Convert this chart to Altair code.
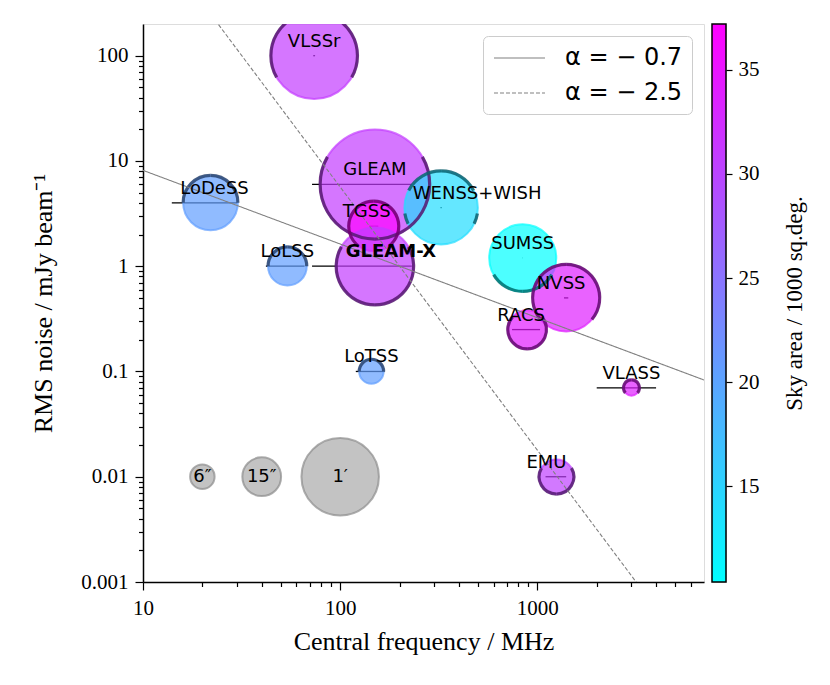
import math
import altair as alt
import pandas as pd

# ---------------- data ----------------
names = ["VLSSr", "GLEAM", "TGSS", "GLEAM-X", "WENSS+WISH", "SUMSS", "NVSS",
         "RACS", "VLASS", "EMU", "LoTSS", "LoLSS", "LoDeSS"]
freq_mhz = [73.8, 150, 148, 150, 325, 843, 1400, 887.5, 3000, 1250, 144, 54, 22]
rms_mjy = [100, 6.0, 2.4, 1.0, 3.6, 1.2, 0.5, 0.25, 0.07, 0.01, 0.1, 1.0, 4.0]
res_arcsec = [75, 120, 25, 60, 54, 45, 45, 15, 2.5, 12, 6, 15, 30]
area_kdeg = [30.9, 30.9, 36.9, 30.9, 14.0, 10.4, 33.8, 34.2, 33.9, 30.5, 20.6, 20.6, 20.6]
band_lo = [73.0, 72, 140, 72, 322.5, 841.5, 1365, 744, 2000, 1100, 120, 42, 14]
band_hi = [74.6, 231, 156, 231, 327.5, 844.5, 1435, 1032, 4000, 1400, 168, 66, 30]

# declination coverage drawn as dark arcs on the bubble edge
arc_survey = ["VLSSr", "GLEAM", "TGSS", "GLEAM-X", "WENSS+WISH", "WENSS+WISH", "SUMSS",
              "NVSS", "RACS", "VLASS", "EMU", "LoTSS", "LoLSS", "LoDeSS"]
arc_dec_lo = [-30, -90, -53, -90, 28, -26, -90, -40, -90, -40, -90, 0, 0, 0]
arc_dec_hi = [90, 30, 90, 30, 90, -9, -30, 90, 41, 90, 30, 90, 90, 90]

ref_labels = ["6″", "15″", "1′"]
ref_freq = [20, 40, 100]
ref_rms = [0.01, 0.01, 0.01]
ref_res = [6, 15, 60]

alpha_labels = ["α = − 0.7", "α = − 2.5"]
alpha_index = [-0.7, -2.5]
pivot_freq = 200.0
pivot_rms = 1.0

x_domain = [10, 7000]
y_domain = [0.001, 200]
area_domain = [10.4, 37.2]
res_max = 120

# ---------------- tables ----------------
surveys = pd.DataFrame({"name": names, "freq": freq_mhz, "rms": rms_mjy,
                        "res": res_arcsec, "area": area_kdeg,
                        "lo": band_lo, "hi": band_hi})
arcs = pd.DataFrame({"name": arc_survey, "dlo": arc_dec_lo, "dhi": arc_dec_hi}).merge(
    surveys, on="name", how="left")
refs = pd.DataFrame({"label": ref_labels, "freq": ref_freq, "rms": ref_rms, "res": ref_res})
lines = pd.DataFrame([{"label": l, "alpha": a, "freq": f}
                      for l, a in zip(alpha_labels, alpha_index) for f in x_domain])

# ---------------- scales / axes ----------------
major = "abs(log(datum.value)/LN10 - round(log(datum.value)/LN10)) < 1e-6"
x_ticks = [m * 10 ** e for e in (1, 2, 3) for m in range(1, 10) if m * 10 ** e < x_domain[1]]
y_ticks = [m * 10.0 ** e for e in range(-3, 3) for m in range(1, 10) if m * 10.0 ** e < y_domain[1] * 0.999]

SERIF = "Liberation Serif"
common_axis = dict(labelExpr=f"{major} ? format(datum.value, '~g') : ''",
                   tickSize={"condition": {"test": major, "value": 8}, "value": 4.5},
                   labelOverlap=False, labelFlush=False, grid=False,
                   labelFont=SERIF, labelFontSize=21, titleFont=SERIF, titleFontSize=26,
                   titleFontWeight="normal", labelPadding=7,
                   tickColor="black", tickWidth=1.2, domainColor="black", domainWidth=1.5,
                   labelColor="black", titleColor="black")
x_axis = alt.Axis(values=x_ticks, titlePadding=10, **common_axis)
y_axis = alt.Axis(values=y_ticks, titlePadding=24, **common_axis)
xs = alt.Scale(type="log", domain=x_domain, nice=False)
ys = alt.Scale(type="log", domain=y_domain, nice=False)
XT = "Central frequency / MHz"
YT = "RMS noise / mJy beam⁻¹"

# bubble diameter = 10 px * sqrt(resolution in arcsec); Vega symbol size = bbox area
size_scale = alt.Scale(type="linear", domain=[0, res_max], range=[0, 100 * res_max], zero=True)
radius_scale = alt.Scale(type="sqrt", domain=[0, res_max], range=[0, 5 * math.sqrt(res_max)], zero=True)
col_scale = alt.Scale(domain=area_domain, range=["#00ffff", "#ff00ff"], interpolate="rgb")
dark_scale = alt.Scale(domain=area_domain, range=["#007070", "#700070"], interpolate="rgb")


def X(field):
    return alt.X(f"{field}:Q", scale=xs, axis=x_axis, title=XT)


def Y(field):
    return alt.Y(f"{field}:Q", scale=ys, axis=y_axis, title=YT)


band = alt.Chart(surveys).mark_rule(color="black", strokeWidth=1.3, clip=True).encode(
    x=X("lo"), x2="hi:Q", y=Y("rms"))

ref_bub = alt.Chart(refs).mark_circle(fill="#a9a9a9", fillOpacity=0.7, stroke="#8c8c8c",
                                      strokeOpacity=0.7, strokeWidth=2, clip=True).encode(
    x=X("freq"), y=Y("rms"), size=alt.Size("res:Q", scale=size_scale, legend=None))

bubbles = alt.Chart(surveys).mark_circle(fillOpacity=0.7, strokeOpacity=0.7, strokeWidth=2,
                                         clip=True).encode(
    x=X("freq"), y=Y("rms"),
    size=alt.Size("res:Q", scale=size_scale, legend=None),
    fill=alt.Fill("area:Q", scale=col_scale, legend=None),
    stroke=alt.Stroke("area:Q", scale=col_scale, legend=None))

deg = "PI/180"
arc_base = alt.Chart(arcs).transform_calculate(
    tr1=f"(90 - datum.dhi)*{deg}", tr2=f"(90 - datum.dlo)*{deg}",
    tl1=f"(270 + datum.dlo)*{deg}", tl2=f"(270 + datum.dhi)*{deg}")


def arc_layer(t1, t2):
    return arc_base.mark_arc(filled=False, strokeWidth=3.2, strokeOpacity=0.85, clip=True).encode(
        x=X("freq"), y=Y("rms"),
        theta=alt.Theta(f"{t1}:Q", scale=None, stack=False),
        theta2=f"{t2}:Q",
        radius=alt.Radius("res:Q", scale=radius_scale),
        radius2="res:Q",
        color=alt.Color("area:Q", scale=dark_scale, legend=None))


arcs_r = arc_layer("tr1", "tr2")
arcs_l = arc_layer("tl1", "tl2")

alpha_lines = alt.Chart(lines).transform_calculate(
    rms=f"{pivot_rms} * pow(datum.freq / {pivot_freq}, datum.alpha)"
).mark_line(color="#808080", strokeWidth=1.1, clip=True).encode(
    x=X("freq"), y=Y("rms"), detail="label:N",
    strokeDash=alt.StrokeDash(
        "label:N", scale=alt.Scale(domain=alpha_labels, range=[[1, 0], [4, 2]]),
        legend=alt.Legend(title=None, orient="top-right", offset=12, padding=9,
                          fillColor="white", strokeColor="#cccccc", cornerRadius=5,
                          labelFont="DejaVu Sans", labelFontSize=24, labelColor="black",
                          symbolType="M-0.917,0H3.333", symbolSize=576,
                          symbolStrokeColor="#808080", symbolStrokeWidth=1.1,
                          labelOffset=47, rowPadding=10)))

nudges = {"WENSS+WISH": 36, "GLEAM-X": 16, "EMU": -10, "TGSS": -7, "RACS": -6,
          "NVSS": -5, "LoDeSS": 4}
plain = [n for n in names if n not in nudges]
txt = alt.Chart(surveys)
label_layers = [
    txt.transform_filter(alt.FieldOneOfPredicate(field="name", oneOf=plain)).mark_text(
        font="DejaVu Sans", fontSize=18, dy=-14, baseline="middle", color="black").encode(
        x=X("freq"), y=Y("rms"), text="name:N")
]
for n, dx in nudges.items():
    label_layers.append(
        txt.transform_filter(alt.FieldEqualPredicate(field="name", equal=n)).mark_text(
            font="DejaVu Sans", fontSize=18, dy=-14, dx=dx, baseline="middle", color="black",
            fontWeight="bold" if n == "GLEAM-X" else "normal").encode(
            x=X("freq"), y=Y("rms"), text="name:N"))

ref_txt = alt.Chart(refs).mark_text(font="DejaVu Sans", fontSize=18, baseline="middle",
                                    color="black").encode(
    x=X("freq"), y=Y("rms"), text="label:N")

main = alt.layer(band, ref_bub, bubbles, arcs_r, arcs_l, alpha_lines, *label_layers, ref_txt
                 ).properties(width=561, height=558)

cbar_df = pd.DataFrame({"lo": [area_domain[0]], "hi": [area_domain[1]]})
cbar = alt.Chart(cbar_df).mark_rect(
    color=alt.Gradient(gradient="linear", x1=0, x2=0, y1=1, y2=0,
                       stops=[alt.GradientStop(color="#00ffff", offset=0),
                              alt.GradientStop(color="#ff00ff", offset=1)]),
    stroke="black", strokeWidth=1.5).encode(
    y=alt.Y("lo:Q", scale=alt.Scale(domain=area_domain, nice=False, zero=False),
            axis=alt.Axis(orient="right", values=[15, 20, 25, 30, 35], title="Sky area / 1000 sq.deg.",
                          titleAngle=270, titleBaseline="top", grid=False, domain=False,
                          tickSize=6, tickWidth=1.2, tickColor="black",
                          labelFont=SERIF, labelFontSize=21, labelColor="black", labelPadding=6,
                          titleFont=SERIF, titleFontSize=23, titleFontWeight="normal",
                          titleColor="black", titlePadding=24)),
    y2="hi:Q").properties(width=14, height=558)

chart = alt.hconcat(main, cbar, spacing=5).resolve_legend(strokeDash="independent").properties(
    padding={"left": 22, "top": 14, "right": 5, "bottom": 5}
).configure_view(stroke="black", strokeWidth=1.5).configure(background="white")

chart.save("out.html", embed_options={"renderer": "svg", "actions": False})
